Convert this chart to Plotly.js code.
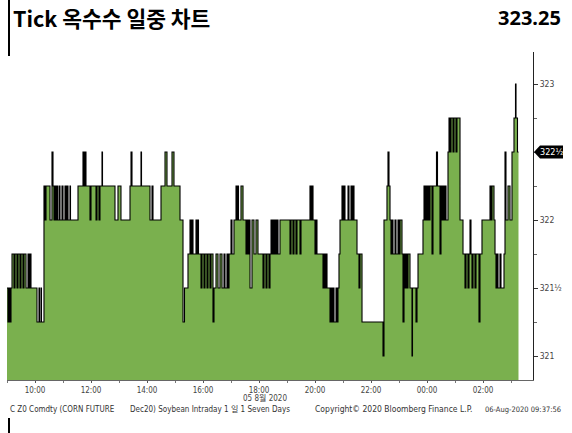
<!DOCTYPE html>
<html>
<head>
<meta charset="utf-8">
<script src="https://cdn.plot.ly/plotly-3.0.1.min.js"></script>
<style>
html,body{margin:0;padding:0;background:#fff;}
#chart{width:572px;height:433px;}
</style>
</head>
<body>
<div id="chart"></div>
<script>
// Tick times, in hours after 00:00 on 5 Aug 2020 (values above 24 are on 6 Aug)
const tickHours = [
 9.000, 9.036, 9.071, 9.107, 9.143, 9.179, 9.250, 9.286, 9.357, 9.393, 9.464, 9.500, 9.571, 9.607, 9.679, 9.750, 9.786, 9.821, 9.857,
 10.071, 10.143, 10.161, 10.214, 10.232, 10.321, 10.357, 10.393, 10.536, 10.607, 10.643, 10.679, 10.714, 10.750, 10.786, 10.821, 10.875, 10.893, 10.964,
 11.000, 11.071, 11.107, 11.143, 11.179, 11.250, 11.268, 11.536, 11.714, 11.750, 11.786, 11.821, 11.964,
 12.000, 12.179, 12.214, 12.286, 12.321, 12.393, 12.411, 12.857, 12.964,
 13.071, 13.393, 13.429, 13.464, 13.786, 13.804,
 14.107, 14.179, 14.214, 14.500, 14.643, 14.714, 14.893, 14.964,
 15.179, 15.286, 15.339, 15.464, 15.536, 15.571, 15.607, 15.643, 15.750, 15.786, 15.821, 15.839, 15.929, 15.964,
 16.036, 16.071, 16.143, 16.179, 16.250, 16.286, 16.357, 16.393, 16.464, 16.536, 16.607, 16.679, 16.750, 16.786, 16.857, 16.893, 16.929,
 17.000, 17.036, 17.107, 17.179, 17.214, 17.250, 17.268, 17.357, 17.429, 17.536, 17.571, 17.607, 17.643, 17.679, 17.750, 17.821, 17.893, 17.964,
 18.143, 18.179, 18.250, 18.286, 18.357, 18.393, 18.429, 18.464, 18.500, 18.536, 18.571, 18.607, 18.643, 18.679, 18.750,
 19.107, 19.143, 19.214, 19.250, 19.321, 19.357, 19.464, 19.500, 19.821, 19.857, 19.893, 19.929,
 20.000, 20.036, 20.071, 20.286, 20.321, 20.357, 20.393, 20.429, 20.536, 20.571, 20.607, 20.643, 20.679, 20.750, 20.786, 20.821, 20.857, 20.893, 20.964,
 21.000, 21.036, 21.071, 21.179, 21.214, 21.286, 21.321, 21.357, 21.393, 21.500, 21.571, 21.607, 21.679,
 22.429, 22.464, 22.571, 22.607, 22.643, 22.679, 22.714, 22.750, 22.786, 22.857, 22.893, 22.964,
 23.000, 23.036, 23.107, 23.143, 23.179, 23.214, 23.250, 23.286, 23.321, 23.393, 23.464, 23.482, 23.607, 23.643, 23.679, 23.857, 23.893, 23.929, 23.964,
 24.000, 24.036, 24.071, 24.107, 24.179, 24.214, 24.339, 24.375, 24.464, 24.500, 24.536, 24.571, 24.607, 24.643, 24.679, 24.750, 24.786, 24.821, 24.857, 24.929, 24.964,
 25.036, 25.071, 25.179, 25.286, 25.357, 25.393, 25.464, 25.500, 25.536, 25.571, 25.607, 25.643, 25.714, 25.750, 25.857, 25.893, 25.964,
 26.250, 26.286, 26.321, 26.393, 26.429, 26.464, 26.500, 26.536, 26.607, 26.643, 26.750, 26.786, 26.821, 26.893, 26.964,
 27.036, 27.107, 27.161, 27.179, 27.232, 27.268
];
const tickPrice = [
 321.5, 321.25, 321.5, 321.25, 321.5, 321.75, 321.5, 321.75, 321.5, 321.75, 321.5, 321.75, 321.5, 321.75, 321.5, 321.75, 321.5, 321.75, 321.5,
 321.25, 321.5, 321.25, 321.5, 321.25, 322.25, 322, 322.25, 322, 322.5, 322.25, 322, 322.25, 322, 322.25, 322, 322.25, 322, 322.25,
 322, 322.25, 322, 322.25, 322, 322.25, 322, 322.25, 322.5, 322.25, 322.5, 322.25, 322,
 322.25, 322, 322.25, 322, 322.25, 322.5, 322.25, 322, 322.25,
 322, 322.25, 322.5, 322.25, 322.5, 322.25,
 322, 322.25, 322, 322.25, 322.5, 322.25, 322.5, 322.25,
 322, 321.25, 321.5, 321.75, 322, 321.75, 322, 321.75, 322, 321.75, 322, 321.75, 321.5, 321.75,
 321.5, 321.75, 321.5, 321.75, 321.5, 321.75, 321.25, 321.5, 321.75, 321.5, 321.75, 321.5, 321.75, 321.5, 321.75, 321.5, 321.75,
 322, 321.75, 322, 322.25, 322, 322.25, 322, 322.25, 322, 321.75, 322, 321.75, 322, 321.5, 322, 321.75, 322, 321.75,
 321.5, 321.75, 321.5, 321.75, 321.5, 321.75, 322, 321.75, 322, 321.75, 322, 321.75, 322, 321.75, 322,
 321.75, 322, 321.75, 322, 321.75, 322, 321.75, 322, 322.25, 322, 322.25, 322,
 321.75, 322, 321.75, 321.5, 321.75, 321.5, 321.75, 321.5, 321.25, 321.5, 321.25, 321.5, 321.25, 321.5, 321.25, 321.5, 321.75, 322, 322.25,
 322, 322.25, 322, 322.25, 322, 322.25, 322, 322.25, 322, 321.75, 321.5, 321.75, 321.25,
 321, 322, 322.25, 322.5, 322.25, 322, 321.75, 322, 321.75, 322, 321.75, 322,
 321.75, 322, 321.75, 321.25, 321.75, 321.5, 321.75, 321.5, 321.75, 321.5, 321, 321.5, 321.25, 321.5, 321.75, 322, 322.25, 322, 322.25,
 322, 322.25, 322, 322.25, 321.75, 322.25, 322.5, 322.25, 321.75, 322.25, 322, 322.25, 322, 322.25, 322, 322.5, 322.75, 322.5, 322.75, 322.5, 322.75,
 322.5, 322.75, 322, 321.75, 321.5, 321.75, 321.5, 321.75, 322, 321.75, 321.5, 321.75, 321.5, 321.75, 321.25, 321.75, 322,
 322.25, 322, 322.25, 322, 321.75, 321.5, 321.75, 321.5, 321.75, 321.5, 321.75, 322.5, 322, 322.25, 322,
 322.5, 322.75, 323, 322.75, 322.5, 322.5
];
const yTickVals = [321, 321.5, 322, 323];
const yTickText = ['321', '321½', '322', '323'];
const lastPriceText = '322½';
const headerTitle = 'Tick 옥수수 일중 차트';
const headerValue = '323.25';
const dateLabel = '05 8월 2020';
const footerTexts = ['C Z0 Comdty (CORN FUTURE', 'Dec20) Soybean Intraday 1 일 1 Seven Days', 'Copyright© 2020 Bloomberg Finance L.P.', '06-Aug-2020 09:37:56'];

function hToStr(h) {
  const ms = Date.UTC(2020, 7, 5) + Math.round(h * 3600000);
  return new Date(ms).toISOString().replace('T', ' ').slice(0, 19);
}
const xs = tickHours.map(hToStr);
const lastPrice = tickPrice[tickPrice.length - 1];

const W = 572, H = 433, L = 7, R = 39, T = 52, B = 53;
const pw = W - L - R, ph = H - T - B;
const px = X => (X - L) / pw;          // pixel -> paper x
const py = Y => (H - B - Y) / ph;      // pixel -> paper y
const yRange = [320.8235, 323.2353];
const vy = v => (v - yRange[0]) / (yRange[1] - yRange[0]);

const narrow = 'DejaVu Sans Condensed, Liberation Sans Narrow, Arial Narrow, Noto Sans CJK KR, sans-serif';

const trace = {
  type: 'scatter', mode: 'lines', x: xs, y: tickPrice,
  line: {color: '#000', width: 1.1, shape: 'hv'},
  fill: 'tozeroy', fillcolor: '#7AB04E',
  hoverinfo: 'skip'
};

const annotations = [
  {xref: 'paper', yref: 'paper', x: px(11), y: py(18), xanchor: 'left', yanchor: 'middle', showarrow: false,
   text: '<b>' + headerTitle + '</b>', font: {family: 'Noto Sans CJK KR, Noto Sans, sans-serif', size: 21.5, color: '#000'}},
  {xref: 'paper', yref: 'paper', x: px(563), y: py(18), xanchor: 'right', yanchor: 'middle', showarrow: false,
   text: '<b>' + headerValue + '</b>', font: {family: 'Noto Sans, Noto Sans CJK KR, sans-serif', size: 20, color: '#000'}},
  {xref: 'x', yref: 'paper', x: hToStr(18.2), y: py(398), xanchor: 'center', yanchor: 'middle', showarrow: false,
   text: dateLabel, font: {family: narrow, size: 8, color: '#444'}},
  {xref: 'paper', yref: 'paper', x: px(8), y: py(409), xanchor: 'left', yanchor: 'middle', showarrow: false,
   text: footerTexts[0], font: {family: narrow, size: 8, color: '#333'}},
  {xref: 'paper', yref: 'paper', x: px(128), y: py(409), xanchor: 'left', yanchor: 'middle', showarrow: false,
   text: footerTexts[1], font: {family: narrow, size: 8, color: '#333'}},
  {xref: 'paper', yref: 'paper', x: px(313), y: py(409), xanchor: 'left', yanchor: 'middle', showarrow: false,
   text: footerTexts[2], font: {family: narrow, size: 8.5, color: '#333'}},
  {xref: 'paper', yref: 'paper', x: px(563), y: py(409), xanchor: 'right', yanchor: 'middle', showarrow: false,
   text: footerTexts[3], font: {family: narrow, size: 7.5, color: '#333'}},
  {xref: 'paper', yref: 'paper', x: px(551), y: vy(lastPrice), xanchor: 'center', yanchor: 'middle', showarrow: false,
   text: lastPriceText, font: {family: narrow, size: 9, color: '#fff'}}
];

const yb = vy(lastPrice), hh = 6.5 / ph;
const shapes = [
  {type: 'rect', xref: 'paper', yref: 'paper', x0: px(8), x1: px(10), y0: py(0), y1: py(56), fillcolor: '#000', line: {width: 0}},
  {type: 'rect', xref: 'paper', yref: 'paper', x0: px(8), x1: px(10), y0: py(418), y1: py(433), fillcolor: '#000', line: {width: 0}},
  {type: 'path', xref: 'paper', yref: 'paper',
   path: `M ${px(534)},${yb} L ${px(540)},${yb + hh} L ${px(563)},${yb + hh} L ${px(563)},${yb - hh} L ${px(540)},${yb - hh} Z`,
   fillcolor: '#000', line: {width: 0}}
];

const layout = {
  width: W, height: H,
  margin: {l: L, r: R, t: T, b: B, pad: 0},
  paper_bgcolor: '#fff', plot_bgcolor: '#fff',
  showlegend: false,
  xaxis: {
    type: 'date', range: [hToStr(9.0), hToStr(27.786)],
    tick0: '2020-08-05 10:00:00', dtick: 7200000, tickformat: '%H:%M',
    ticks: 'outside', ticklen: 2, tickcolor: '#555',
    minor: {dtick: 3600000, tick0: '2020-08-05 10:00:00', ticks: 'outside', ticklen: 2, tickcolor: '#777'},
    showgrid: false, zeroline: false,
    showline: true, linecolor: '#666', linewidth: 1,
    tickfont: {family: narrow, size: 8, color: '#444'}
  },
  yaxis: {
    side: 'right', range: yRange,
    tickmode: 'array', tickvals: yTickVals, ticktext: yTickText,
    ticks: 'outside', ticklen: 4, tickcolor: '#333',
    minor: {tickmode: 'linear', tick0: 321, dtick: 0.25, ticks: 'outside', ticklen: 3, tickcolor: '#666'},
    showgrid: false, zeroline: false,
    showline: true, linecolor: '#222', linewidth: 1,
    tickfont: {family: narrow, size: 8.5, color: '#444'}
  },
  annotations: annotations,
  shapes: shapes
};

Plotly.newPlot('chart', [trace], layout, {staticPlot: true, displayModeBar: false});
</script>
</body>
</html>
